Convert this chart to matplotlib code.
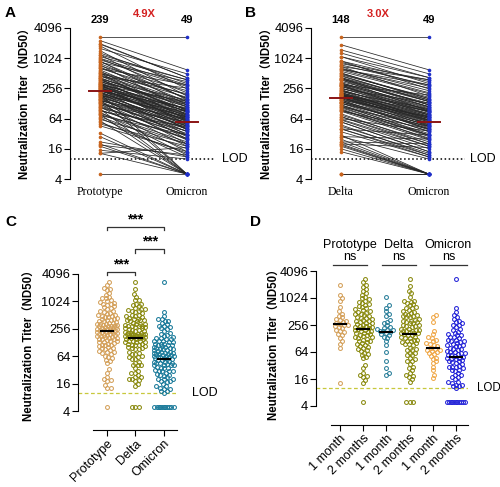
import numpy as np
import matplotlib
matplotlib.use("Agg")
import matplotlib.pyplot as plt
from matplotlib.ticker import NullLocator
import matplotlib.transforms as mtransforms

plt.rcParams['font.family'] = ['Liberation Sans', 'Noto Sans CJK SC', 'DejaVu Sans']

# titers per subject, 1-month group then 2-month group (same subject order in every list)
proto_1m = [1950, 1200, 1020, 880, 640, 520, 460, 410, 380, 350, 330, 310, 300, 290, 275,
            260, 250, 240, 230, 215, 200, 190, 175, 160, 150, 130, 110, 95, 78, 13]
delta_1m = [1100, 700, 620, 520, 300, 450, 400, 330, 280, 250, 230, 220, 210, 200, 195,
            190, 185, 180, 170, 160, 150, 140, 130, 110, 90, 64, 40, 28, 22, 20]
omi_1m = [420, 380, 300, 160, 190, 140, 120, 110, 95, 130, 88, 100, 80, 76, 72,
          90, 68, 64, 60, 58, 70, 52, 48, 45, 40, 36, 30, 25, 20, 17]

proto_2m = [2700, 2300, 2000, 1800, 1600, 1450, 1300, 1200, 1100, 1000,
            950, 900, 850, 800, 760, 720, 680, 640, 600, 570,
            540, 520, 500, 480, 460, 440, 420, 405, 390, 375,
            360, 345, 330, 320, 310, 300, 290, 280, 270, 262,
            255, 248, 240, 233, 226, 220, 214, 208, 202, 196,
            190, 184, 178, 172, 166, 160, 155, 150, 145, 140,
            135, 130, 125, 120, 115, 110, 105, 100, 95, 90,
            86, 82, 78, 74, 70, 66, 62, 58, 54, 50,
            33, 28, 22, 20, 19, 18, 15, 13, 5, 46]
delta_2m = [2700, 1900, 1300, 900, 1500, 700, 1100, 520, 800, 600,
            850, 420, 900, 500, 380, 650, 460, 750, 400, 300,
            480, 230, 560, 350, 280, 620, 300, 190, 420, 330,
            240, 380, 200, 290, 150, 400, 210, 320, 170, 260,
            180, 120, 240, 190, 310, 140, 100, 210, 30, 170,
            130, 260, 150, 80, 190, 110, 25, 160, 200, 115,
            90, 140, 70, 170, 105, 55, 120, 22, 95, 130,
            48, 75, 18, 95, 60, 40, 70, 16, 45, 62,
            20, 14, 35, 5, 40, 19, 28, 5, 5, 55]
omi_2m = [2700, 600, 420, 250, 500, 180, 320, 150, 380, 210,
          280, 120, 350, 160, 90, 230, 140, 300, 110, 75,
          170, 60, 200, 130, 85, 260, 95, 48, 150, 110,
          70, 120, 55, 90, 38, 140, 65, 100, 45, 80,
          52, 30, 75, 60, 105, 40, 25, 68, 5, 50,
          35, 88, 42, 20, 58, 28, 5, 46, 64, 32,
          24, 40, 18, 55, 30, 14, 36, 5, 26, 44,
          12, 22, 5, 30, 16, 11, 20, 5, 13, 18,
          5, 5, 11, 5, 12, 5, 10, 5, 5, 14]

prototype = proto_1m + proto_2m
delta = delta_1m + delta_2m
omicron = omi_1m + omi_2m

gmt_labels_a = ["239", "49"]
gmt_labels_b = ["148", "49"]
fold_a = "4.9X"
fold_b = "3.0X"
lod = 10
yticks = [4, 16, 64, 256, 1024, 4096]
c_names = ["Prototype", "Delta", "Omicron"]
d_names = ["1 month", "2 months"] * 3
d_groups = ["Prototype\nns", "Delta\nns", "Omicron\nns"]

W, H = 500, 487
fig = plt.figure(figsize=(W / 100, H / 100), dpi=100)
YLAB = "Neutralization Titer\uff08ND50\uff09"


def px_axes(l, t, r, b):
    return fig.add_axes([l / W, 1 - b / H, (r - l) / W, (b - t) / H])


def gmt(v):
    return np.exp(np.mean(np.log(v)))


def log_y(ax):
    ax.set_yscale('log', base=2)
    ax.set_ylim(4, 4096)
    ax.set_yticks(yticks)
    ax.set_yticklabels([str(t) for t in yticks], fontsize=9.3)
    ax.yaxis.set_minor_locator(NullLocator())
    ax.tick_params(axis='y', length=4, width=0.8, pad=1.5)
    for s in ['top', 'right']:
        ax.spines[s].set_visible(False)
    ax.spines['left'].set_linewidth(0.8)


def swarm(vals, ppl, d=3.4, max_w=10, step=0.5):
    y = np.log2(np.asarray(vals, float)) * ppl
    xs = np.zeros(len(y))
    steps = np.arange(step, max_w + 1e-9, step)
    cands = np.concatenate([[0.0], np.column_stack([steps, -steps]).ravel()])
    px, py = [], []
    for i in np.argsort(y, kind='stable'):
        if px:
            PX = np.array(px)
            PY = np.array(py)
            dist = np.sqrt((cands[:, None] - PX[None, :]) ** 2 + (y[i] - PY[None, :]) ** 2).min(axis=1)
            ok = np.where(dist >= d)[0]
            c = cands[ok[0]] if len(ok) else cands[np.argmax(dist)]
        else:
            c = 0.0
        xs[i] = c
        px.append(c)
        py.append(y[i])
    return xs


def paired(ax, a, b, names, tops, col_a='#c8641e', col_b='#1f2fc8'):
    for i in range(len(a)):
        ax.plot([0, 1], [a[i], b[i]], color='#262626', lw=0.55, zorder=1)
    ax.plot(np.zeros(len(a)), a, 'o', color=col_a, ms=2.6, mew=0, zorder=3)
    ax.plot(np.ones(len(b)), b, 'o', color=col_b, ms=2.6, mew=0, zorder=3)
    for x, v in [(0, a), (1, b)]:
        g = gmt(v)
        ax.plot([x - 0.13, x + 0.13], [g, g], color='#8b1414', lw=1.4, zorder=4)
    log_y(ax)
    ax.spines['bottom'].set_visible(False)
    ax.set_xticks([0, 1])
    ax.set_xticklabels(names, fontsize=8.6, family='Liberation Serif')
    ax.tick_params(axis='x', length=0, pad=5)
    ax.axhline(lod, color='k', ls=':', lw=1.1, zorder=0)
    tr = mtransforms.blended_transform_factory(ax.transData, ax.transAxes)
    for x, t in zip([0, 1], tops):
        ax.text(x, 1.02, t, transform=tr, ha='center', va='bottom', fontsize=8, fontweight='bold')


# Panel A
axA = px_axes(70, 28, 215, 179)
paired(axA, prototype, omicron, ["Prototype", "Omicron"], gmt_labels_a)
axA.set_xlim(-0.345, 1.322)
axA.text(1.045, lod, "LOD", transform=mtransforms.blended_transform_factory(axA.transAxes, axA.transData),
         va='center', ha='left', fontsize=9)
fig.text(144 / W, 1 - 14 / H, fold_a, color='#d42020', fontsize=8, fontweight='bold', ha='center', va='center')
fig.text(26 / W, 1 - 101 / H, YLAB, rotation=90, fontsize=8.3, fontweight='bold', ha='center', va='center')
fig.text(5 / W, 1 - 13 / H, "A", fontsize=11, fontweight='bold', va='center')

# Panel B
axB = px_axes(311, 28, 465, 179)
paired(axB, delta, omicron, ["Delta", "Omicron"], gmt_labels_b)
axB.set_xlim(-0.341, 1.409)
axB.text(1.03, lod, "LOD", transform=mtransforms.blended_transform_factory(axB.transAxes, axB.transData),
         va='center', ha='left', fontsize=9)
fig.text(378 / W, 1 - 14 / H, fold_b, color='#d42020', fontsize=8, fontweight='bold', ha='center', va='center')
fig.text(268 / W, 1 - 101 / H, YLAB, rotation=90, fontsize=8.3, fontweight='bold', ha='center', va='center')
fig.text(245 / W, 1 - 13 / H, "B", fontsize=11, fontweight='bold', va='center')


def scatter_panel(ax, series, colors, ppl, px_per_unit, max_w, half):
    for x, (v, c) in enumerate(zip(series, colors)):
        off = swarm(v, ppl, max_w=max_w) / px_per_unit
        ax.plot(x + off, v, 'o', ms=2.8, mfc='none', mec=c, mew=0.75, zorder=2, clip_on=False)
        g = gmt(v)
        ax.plot([x - half, x + half], [g, g], color='k', lw=1.5, zorder=4)
    log_y(ax)
    ax.axhline(lod, color='#c8c83c', ls=(0, (3, 2)), lw=0.9, zorder=0)
    ax.spines['bottom'].set_position(('outward', 14))
    ax.spines['bottom'].set_linewidth(0.8)
    ax.tick_params(axis='x', length=4, width=0.8, pad=1)


# Panel C
axC = px_axes(78, 274, 177, 411)
scatter_panel(axC, [prototype, delta, omicron], ['#d4a05a', '#8a8a10', '#1a7a9a'], 13.7, 28.5, 10, 0.22)
axC.set_xlim(-1.02, 2.46)
axC.spines['left'].set_bounds(4, 4096)
axC.spines['bottom'].set_bounds(-0.5, 2.46)
axC.set_xticks([0, 1, 2])
axC.set_xticklabels(c_names, rotation=45, ha='right', rotation_mode='anchor', fontsize=9)
axC.text(1.15, lod, "LOD", transform=mtransforms.blended_transform_factory(axC.transAxes, axC.transData),
         va='center', ha='left', fontsize=9)
trC = mtransforms.blended_transform_factory(axC.transData, axC.transAxes)
for (x0, x1, yb) in [(0, 1, 1.015), (1, 2, 1.18), (0, 2, 1.343)]:
    axC.plot([x0, x0, x1, x1], [yb - 0.025, yb, yb, yb - 0.025], color='#333333', lw=0.9,
             transform=trC, clip_on=False)
    axC.text((x0 + x1) / 2, yb + 0.005, "***", transform=trC, ha='center', va='bottom',
             fontsize=10, fontweight='bold')
fig.text(30 / W, 1 - 343 / H, YLAB, rotation=90, fontsize=8.3, fontweight='bold', ha='center', va='center')
fig.text(5 / W, 1 - 222 / H, "C", fontsize=11, fontweight='bold', va='center')

# Panel D
axD = px_axes(316, 271, 468, 406)
scatter_panel(axD, [proto_1m, proto_2m, delta_1m, delta_2m, omi_1m, omi_2m],
              ['#d4a05a', '#8a8a10', '#2a7f9a', '#8a8a10', '#f0a848', '#2424d8'], 13.5, 23.2, 9, 0.26)
axD.set_xlim(-1.03, 5.52)
axD.spines['left'].set_bounds(4, 4096)
axD.spines['bottom'].set_bounds(-0.39, 5.52)
axD.set_xticks(range(6))
axD.set_xticklabels(d_names, rotation=45, ha='right', rotation_mode='anchor', fontsize=9)
fig.text(477 / W, 1 - 388 / H, "LOD", va='center', ha='left', fontsize=8.3)
trD = mtransforms.blended_transform_factory(axD.transData, axD.transAxes)
for (x0, x1), lab in zip([(-0.3, 1.16), (1.81, 3.28), (3.88, 5.47)], d_groups):
    axD.plot([x0, x1], [1.044, 1.044], color='#333333', lw=0.9, transform=trD, clip_on=False)
    axD.text((x0 + x1) / 2, 1.06, lab, transform=trD, ha='center', va='bottom', fontsize=9,
             linespacing=1.0)
fig.text(275 / W, 1 - 342 / H, YLAB, rotation=90, fontsize=8.3, fontweight='bold', ha='center', va='center')
fig.text(250 / W, 1 - 222 / H, "D", fontsize=11, fontweight='bold', va='center')

fig.savefig("out.png", dpi=100)
